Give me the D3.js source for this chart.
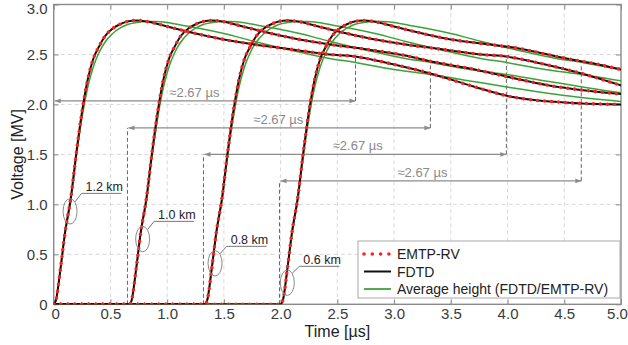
<!DOCTYPE html>
<html><head><meta charset="utf-8">
<script src="https://cdn.jsdelivr.net/npm/d3@7"></script>
<style>
html,body{margin:0;padding:0;background:#fff;}
svg{display:block;font-family:"Liberation Sans",Arial,Helvetica,sans-serif;}
</style></head>
<body><svg id="c" width="628" height="345"></svg>
<script>
// ---- data ----
const distances = ["1.2 km", "1.0 km", "0.8 km", "0.6 km"];
const delays = [0, 0.667, 1.333, 2.0];          // surge arrival time [µs]
const tau = [0, 0.02, 0.06, 0.10, 0.15, 0.20, 0.25, 0.30, 0.35, 0.40, 0.45, 0.52, 0.58, 0.65, 0.73, 0.82, 0.90, 1.00, 1.14, 1.29, 1.50, 1.77, 2.10, 2.43, 2.66, 2.80, 3.00, 3.32, 3.70, 4.02, 4.50, 5.00];
const fdtd12 = [0, 0.04, 0.36, 0.72, 1.06, 1.52, 1.93, 2.25, 2.46, 2.58, 2.68, 2.76, 2.80, 2.83, 2.84, 2.83, 2.81, 2.78, 2.74, 2.70, 2.65, 2.60, 2.55, 2.50, 2.48, 2.45, 2.40, 2.31, 2.18, 2.08, 2.02, 2.00];
const fdtd10 = [0, 0.04, 0.36, 0.72, 1.06, 1.52, 1.93, 2.25, 2.46, 2.58, 2.68, 2.76, 2.80, 2.83, 2.84, 2.83, 2.81, 2.78, 2.74, 2.70, 2.65, 2.60, 2.55, 2.49, 2.43, 2.40, 2.36, 2.28, 2.19, 2.14, 2.09, 2.07];
const fdtd08 = [0, 0.04, 0.36, 0.72, 1.06, 1.52, 1.93, 2.25, 2.46, 2.58, 2.68, 2.76, 2.80, 2.83, 2.84, 2.83, 2.81, 2.78, 2.74, 2.70, 2.65, 2.60, 2.55, 2.50, 2.48, 2.45, 2.40, 2.31, 2.18, 2.08, 2.02, 2.00];
const fdtd06 = [0, 0.04, 0.36, 0.72, 1.06, 1.52, 1.93, 2.25, 2.46, 2.58, 2.68, 2.76, 2.80, 2.83, 2.84, 2.83, 2.81, 2.78, 2.74, 2.70, 2.65, 2.61, 2.56, 2.48, 2.43, 2.40, 2.35, 2.28, 2.18, 2.10, 2.04, 2.01];
const avg12 = [0, 0.04, 0.35, 0.70, 1.03, 1.48, 1.87, 2.17, 2.38, 2.52, 2.62, 2.71, 2.76, 2.80, 2.82, 2.83, 2.83, 2.82, 2.79, 2.76, 2.71, 2.63, 2.54, 2.46, 2.42, 2.39, 2.35, 2.30, 2.23, 2.17, 2.09, 2.03];
const avg10 = avg12.slice();
const avg08 = avg12.slice();
const avg06 = avg12.slice();
const fdtdSeries = [fdtd12, fdtd10, fdtd08, fdtd06];
const emtpSeries = [fdtd12, fdtd10, fdtd08, fdtd06];   // EMTP-RV coincides with FDTD
const avgSeries = [avg12, avg10, avg08, avg06];

const xTicks = [0, 0.5, 1.0, 1.5, 2.0, 2.5, 3.0, 3.5, 4.0, 4.5, 5.0];
const yTicks = [0, 0.5, 1.0, 1.5, 2.0, 2.5, 3.0];

// travel-time annotations
const arrowStart = [0, 0.65, 1.32, 1.99];
const arrowEnd = [2.66, 3.32, 3.99, 4.65];
const arrowLevel = [2.035, 1.765, 1.50, 1.235];
const arrowTop = [2.48, 2.41, 2.47, 2.40];
const arrowText = ["≈2.67 µs", "≈2.67 µs", "≈2.67 µs", "≈2.67 µs"];
const arrowTextPos = [1.24, 1.98, 2.68, 3.25];
// labels: ellipse centre (t, V)
const markT = [0.144, 0.784, 1.422, 2.059];
const markV = [0.93, 0.653, 0.41, 0.216];
const labelT = [0.28, 0.92, 1.56, 2.2];
const labelV = [1.11, 0.83, 0.58, 0.38];

const legendNames = ["EMTP-RV", "FDTD", "Average height (FDTD/EMTP-RV)"];

// ---- drawing ----
const svg = d3.select("#c");
const x = d3.scaleLinear([0, 5], [53.7, 621]);
const y = d3.scaleLinear([0, 3], [304.3, 4.5]);
const gray = "#8a8a8a";
const txt = "#3a3a3a";

svg.append("defs").append("clipPath").attr("id", "clip")
  .append("rect").attr("x", x(0)).attr("y", y(3)).attr("width", x(5) - x(0)).attr("height", y(0) - y(3));

// grid
const grid = svg.append("g").attr("stroke", "#d9d9d9").attr("stroke-dasharray", "4,3").attr("stroke-width", 1);
xTicks.slice(1, -1).forEach(t => grid.append("line").attr("x1", x(t)).attr("x2", x(t)).attr("y1", y(0)).attr("y2", y(3)));
yTicks.slice(1, -1).forEach(v => grid.append("line").attr("x1", x(0)).attr("x2", x(5)).attr("y1", y(v)).attr("y2", y(v)));

// axes
const fmt = d => d === 0 ? "0" : d3.format(".1f")(d);
const ax = svg.append("g").attr("transform", `translate(0,${y(0)})`)
  .call(d3.axisBottom(x).tickValues(xTicks).tickFormat(fmt).tickSizeInner(-5).tickSizeOuter(0).tickPadding(4));
const ayl = svg.append("g").attr("transform", `translate(${x(0)},0)`)
  .call(d3.axisLeft(y).tickValues(yTicks).tickFormat(fmt).tickSizeInner(-5).tickSizeOuter(0).tickPadding(6));
const axt = svg.append("g").attr("transform", `translate(0,${y(3)})`)
  .call(d3.axisTop(x).tickValues(xTicks).tickFormat("").tickSizeInner(-5).tickSizeOuter(0));
const ayr = svg.append("g").attr("transform", `translate(${x(5)},0)`)
  .call(d3.axisRight(y).tickValues(yTicks).tickFormat("").tickSizeInner(-5).tickSizeOuter(0));
[ax, ayl, axt, ayr].forEach(g => {
  g.select(".domain").remove();
  g.selectAll(".tick line").attr("stroke", gray);
  g.selectAll(".tick text").attr("fill", txt).style("font-size", "15px").style("font-family", "'Liberation Sans',Arial,sans-serif");
});
// keep end labels inside the picture
ax.selectAll(".tick text").filter(d => d === 5).attr("dx", -4);
ax.selectAll(".tick text").filter(d => d === 0).attr("dx", 1.5);
ayl.selectAll(".tick text").filter(d => d === 3).attr("dy", "0.62em");

svg.append("rect").attr("x", x(0)).attr("y", y(3)).attr("width", x(5) - x(0)).attr("height", y(0) - y(3))
  .attr("fill", "none").attr("stroke", gray).attr("stroke-width", 1.4);

// axis titles
svg.append("text").attr("x", (x(0) + x(5)) / 2).attr("y", 337).attr("text-anchor", "middle")
  .attr("fill", "#222").style("font-size", "16px").text("Time [µs]");
svg.append("text").attr("transform", `translate(23,${(y(0) + y(3)) / 2}) rotate(-90)`).attr("text-anchor", "middle")
  .attr("fill", "#222").style("font-size", "16px").text("Voltage [MV]");

// annotations (arrows)
const defs = svg.select("defs");
defs.append("marker").attr("id", "ah").attr("viewBox", "0 0 10 10").attr("refX", 10).attr("refY", 5)
  .attr("markerWidth", 7).attr("markerHeight", 6).attr("markerUnits", "userSpaceOnUse").attr("orient", "auto-start-reverse")
  .append("path").attr("d", "M0,1 L10,5 L0,9 z").attr("fill", "#8c8c8c");
const ann = svg.append("g");
arrowStart.forEach((s, i) => {
  ann.append("line").attr("x1", x(s) + 1).attr("x2", x(arrowEnd[i])).attr("y1", y(arrowLevel[i])).attr("y2", y(arrowLevel[i]))
    .attr("stroke", "#8c8c8c").attr("stroke-width", 1.3)
    .attr("marker-start", "url(#ah)").attr("marker-end", "url(#ah)");
  if (s > 0) ann.append("line").attr("x1", x(s)).attr("x2", x(s)).attr("y1", y(0)).attr("y2", y(arrowLevel[i]))
    .attr("stroke", "#666").attr("stroke-dasharray", "4,2.5").attr("stroke-width", 1);
  ann.append("line").attr("x1", x(arrowEnd[i])).attr("x2", x(arrowEnd[i])).attr("y1", y(arrowLevel[i])).attr("y2", y(arrowTop[i]))
    .attr("stroke", "#666").attr("stroke-dasharray", "4,2.5").attr("stroke-width", 1);
  ann.append("text").attr("x", x(arrowTextPos[i])).attr("y", y(arrowLevel[i]) - 4).attr("text-anchor", "middle")
    .attr("fill", "#8a8a8a").style("font-size", "13px").text(arrowText[i]);
});

// curves
const line = d3.line().x(d => x(d[0])).y(d => y(d[1])).curve(d3.curveMonotoneX);
function pts(vals, d0) {
  const p = [];
  if (d0 > 0) p.push([0, 0]);
  tau.forEach((t, k) => p.push([d0 + t, vals[k]]));
  return p;
}
const plot = svg.append("g").attr("clip-path", "url(#clip)");
avgSeries.forEach((v, i) => plot.append("path").attr("d", line(pts(v, delays[i])))
  .attr("fill", "none").attr("stroke", "#3aa336").attr("stroke-width", 1.5));
fdtdSeries.forEach((v, i) => plot.append("path").attr("d", line(pts(v, delays[i])))
  .attr("fill", "none").attr("stroke", "#111").attr("stroke-width", 2));
emtpSeries.forEach((v, i) => plot.append("path").attr("d", line(pts(v, delays[i])))
  .attr("fill", "none").attr("stroke", "#ff1f1f").attr("stroke-width", 3.6)
  .attr("stroke-linecap", "round").attr("stroke-dasharray", "0,7"));

// distance labels
const lab = svg.append("g");
distances.forEach((d, i) => {
  const cx = x(markT[i]), cy = y(markV[i]);
  lab.append("ellipse").attr("cx", cx).attr("cy", cy).attr("rx", 7).attr("ry", 12.7)
    .attr("fill", "none").attr("stroke", "#8a8a8a").attr("stroke-width", 1);
  const lx = x(labelT[i]), ly = y(labelV[i]);
  lab.append("polyline").attr("points", `${cx + 5},${cy - 9.5} ${lx - 4},${ly} ${lx + 36},${ly}`)
    .attr("fill", "none").attr("stroke", "#777").attr("stroke-width", 1);
  lab.append("text").attr("x", lx).attr("y", ly - 2.5).attr("fill", "#222").style("font-size", "12.5px").text(d);
});

// legend
const lg = svg.append("g").attr("transform", "translate(358,241)");
lg.append("rect").attr("width", 262).attr("height", 57).attr("fill", "#fff").attr("stroke", "#aaa").attr("stroke-width", 1);
const sw = [
  {stroke: "#ff1f1f", w: 3.6, dash: "0,8.3", cap: "round"},
  {stroke: "#111", w: 2, dash: null, cap: "butt"},
  {stroke: "#3aa336", w: 1.8, dash: null, cap: "butt"}
];
legendNames.forEach((n, i) => {
  const yy = 13 + i * 17.5;
  lg.append("line").attr("x1", 6).attr("x2", 33).attr("y1", yy).attr("y2", yy)
    .attr("stroke", sw[i].stroke).attr("stroke-width", sw[i].w).attr("stroke-linecap", sw[i].cap)
    .attr("stroke-dasharray", sw[i].dash);
  lg.append("text").attr("x", 39).attr("y", yy + 5).attr("fill", "#222").style("font-size", "14px").text(n);
});
</script></body></html>
